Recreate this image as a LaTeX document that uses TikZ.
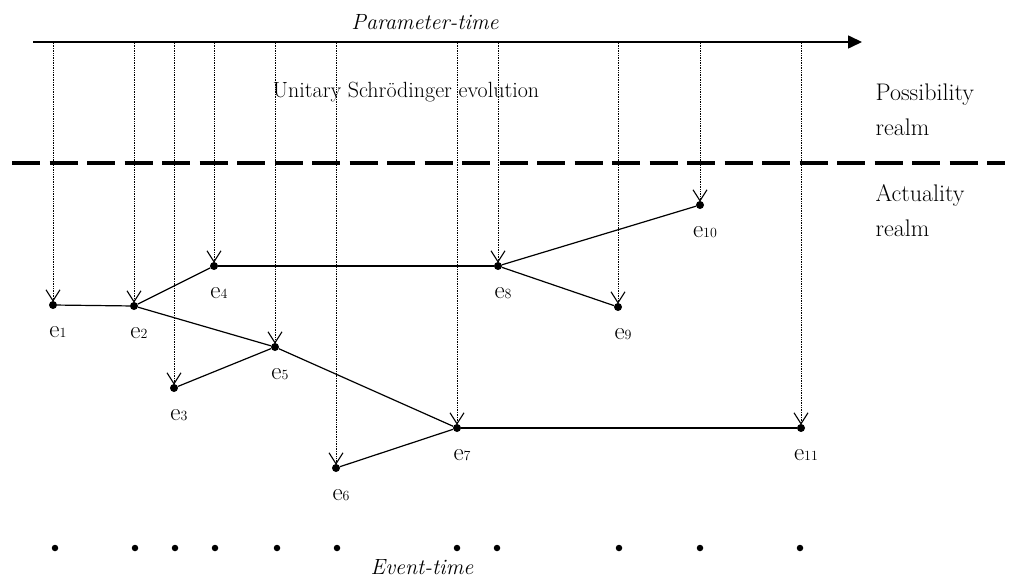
\documentclass[tikz,border=0pt]{standalone}
\usetikzlibrary{arrows.meta}
\begin{document}
\begin{tikzpicture}[x=1pt, y=-1pt, font=\fontsize{22}{35}\selectfont,
    ev/.style={circle, fill, inner sep=0pt, minimum size=8pt},
    tick/.style={circle, fill, inner sep=0pt, minimum size=6.5pt},
    drop/.style={densely dotted, line width=0.7pt, -{Straight Barb[length=11pt, width=14pt, line width=1.1pt]}, shorten >=-1pt},
    link/.style={line width=1.2pt}]
    \useasboundingbox (0,0) rectangle (1011,580);

    % parameter-time axis
    \coordinate (p0) at (33,42);
    \coordinate (p1) at (862,42);
    \draw[line width=1.6pt, -{Triangle[length=14pt, width=13pt]}] (p0) -- (p1);
    \node[font=\fontsize{22}{26}\itshape] (ptime) at (425,22) {Parameter-time};

    % border between the realms
    \coordinate (b0) at (12,163);
    \coordinate (b1) at (1005,163);
    \draw[line width=4.5pt, dash pattern=on 28pt off 9.5pt] (b0) -- (b1);

    \node (unitary) at (406,92) {Unitary Schr\"odinger evolution};
    \node[anchor=west, align=left, font=\fontsize{24}{35}\selectfont] (poss) at (872,110) {Possibility\\realm};
    \node[anchor=west, align=left, font=\fontsize{24}{35}\selectfont] (act) at (872,211) {Actuality\\realm};

    % events
    \node[ev] (e1)  at ( 53,305) {};
    \node[ev] (e2)  at (134,306) {};
    \node[ev] (e3)  at (174,388) {};
    \node[ev] (e4)  at (214,266) {};
    \node[ev] (e5)  at (275,347) {};
    \node[ev] (e6)  at (336,468) {};
    \node[ev] (e7)  at (457,428) {};
    \node[ev] (e8)  at (498,266) {};
    \node[ev] (e9)  at (618,307) {};
    \node[ev] (e10) at (700,205) {};
    \node[ev] (e11) at (801,428) {};

    % labels
    \foreach \i in {1,...,11}
        \node[font=\fontsize{25}{28}\selectfont] (l\i) at ([shift={(5,27)}]e\i) {e{\fontsize{14}{16}\selectfont\i}};

    % dotted drops from parameter-time
    \foreach \i/\x in {1/53,2/134,3/174,4/214,5/275,6/336,7/457,8/498,9/618,10/700,11/801} {
        \coordinate (t\i) at (\x,43);
        \draw[drop] (t\i) -- (e\i);
    }

    % links between events
    \draw[link] (e1) -- (e2);
    \draw[link] (e2) -- (e4);
    \draw[link] (e2) -- (e5);
    \draw[link] (e3) -- (e5);
    \draw[link] (e4) -- (e8);
    \draw[link] (e5) -- (e7);
    \draw[link] (e6) -- (e7);
    \draw[link] (e7) -- (e11);
    \draw[link] (e8) -- (e10);
    \draw[link] (e8) -- (e9);

    % event-time
    \foreach \i/\x in {1/55,2/135,3/175,4/215,5/277,6/337,7/457,8/497,9/619,10/700,11/800}
        \node[tick] (s\i) at (\x,548) {};
    \node[font=\fontsize{22}{26}\itshape] (etime) at (422,567) {Event-time};
\end{tikzpicture}
\end{document}
